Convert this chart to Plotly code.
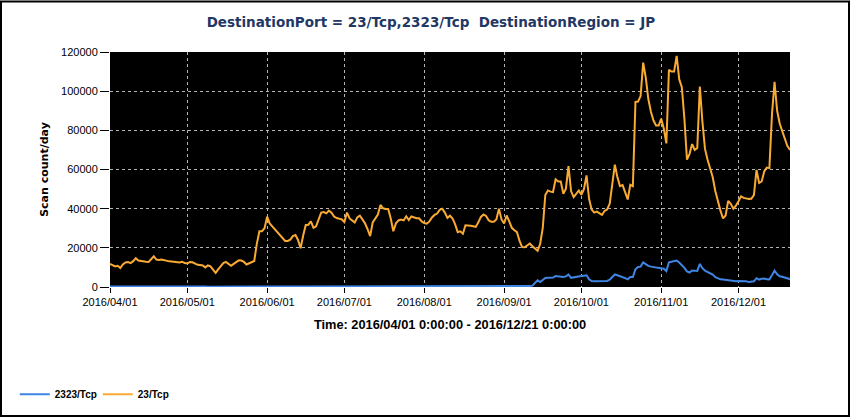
import plotly.graph_objects as go
import pandas as pd

start_date = "2016-04-01"

# 23/Tcp daily scan counts (2016/04/01 .. 2016/12/21)
tcp23_apr = [11800, 11000, 10500, 10800, 9700, 11500, 12500, 12700, 12200, 13200,
             14700, 13500, 13200, 13000, 12900, 12800, 14000, 15700, 14000, 13800,
             14000, 13600, 13200, 13100, 13000, 12800, 12700, 12500, 12900, 12200]
tcp23_may = [12000, 12800, 12600, 12000, 11300, 11200, 11000, 10000, 11000, 10500,
             8500, 7200, 9000, 10800, 12200, 12800, 12000, 10800, 11800, 12900,
             13600, 13500, 12800, 11500, 12000, 12500, 13300, 22000, 28500, 28500,
             30000]
tcp23_jun = [35900, 32500, 31000, 29500, 28000, 27000, 25000, 23500, 23500, 24200,
             26000, 26500, 24000, 19800, 26300, 31700, 31800, 33500, 30200, 31000,
             34500, 38000, 38300, 37600, 39000, 38000, 36000, 35200, 34900, 34500]
tcp23_jul = [33200, 38000, 35000, 34000, 33000, 35500, 36400, 34500, 32500, 29500,
             26000, 33000, 34800, 37000, 41900, 40200, 39800, 39800, 35000, 28500,
             32500, 34000, 34400, 34000, 36100, 34200, 36000, 35500, 35100, 35100,
             33500]
tcp23_aug = [32700, 32300, 33500, 35500, 36800, 37500, 39400, 40000, 38000, 35300,
             36400, 35000, 32000, 28000, 28400, 27200, 31500, 31500, 31300, 31000,
             30700, 33000, 35800, 37000, 36300, 34100, 33300, 33300, 34500, 40000,
             34500]
tcp23_sep = [32500, 36500, 33500, 30200, 29000, 28000, 23500, 20400, 20300, 21500,
             22200, 20800, 19500, 18500, 22000, 30000, 47000, 49300, 48700, 48500,
             55000, 53900, 53900, 47600, 50200, 61700, 49000, 45900, 47600, 49300]
tcp23_oct = [47100, 50000, 57000, 45000, 39500, 38000, 38500, 37800, 36800, 38800,
             39600, 42500, 52000, 62500, 56000, 51500, 52000, 48500, 44700, 52200,
             51500, 94500, 94700, 97500, 114600, 107000, 96000, 89500, 85000, 82500,
             82500]
tcp23_nov = [85900, 80900, 73300, 110900, 110000, 110000, 118000, 106000, 102000, 86000,
             65000, 68000, 73000, 70000, 71000, 102400, 84300, 70500, 65000, 60500,
             56000, 49000, 43500, 39000, 35000, 36500, 44000, 42500, 40000, 41500]
tcp23_dec = [43800, 46300, 45500, 45200, 45000, 45100, 47000, 59800, 53100, 53900,
             59000, 61000, 60700, 88000, 104800, 90000, 83500, 79500, 75500, 72000,
             70000]

# 2323/Tcp daily scan counts
tcp2323_apr = [200, 210, 190, 200, 220, 200, 190, 210, 200, 200,
               210, 200, 190, 200, 210, 220, 200, 190, 200, 210,
               200, 200, 190, 210, 200, 200, 210, 200, 190, 200]
tcp2323_may = [200, 210, 200, 190, 200, 210, 200, 200, 190, 200,
               210, 200, 200, 190, 210, 200, 200, 210, 190, 200,
               200, 210, 200, 190, 200, 210, 200, 200, 190, 200,
               210]
tcp2323_jun = [200, 200, 210, 190, 200, 200, 210, 200, 190, 200,
               210, 200, 200, 190, 200, 210, 200, 200, 190, 210,
               200, 200, 210, 190, 200, 200, 210, 200, 190, 200]
tcp2323_jul = [200, 210, 200, 190, 200, 210, 200, 200, 190, 200,
               210, 200, 200, 190, 210, 200, 200, 210, 190, 200,
               200, 210, 200, 190, 200, 210, 200, 200, 190, 200,
               210]
tcp2323_aug = [200, 200, 210, 190, 200, 200, 210, 200, 190, 200,
               210, 200, 200, 190, 200, 210, 200, 200, 190, 210,
               200, 200, 210, 190, 200, 200, 210, 200, 190, 200,
               210]
tcp2323_sep = [200, 200, 250, 250, 300, 300, 400, 400, 400, 500,
               500, 700, 2000, 3400, 2500, 3500, 4600, 4700, 4800, 4800,
               5600, 5400, 5300, 5100, 5400, 6300, 4700, 5000, 5100, 5300]
tcp2323_oct = [5600, 5800, 6000, 3900, 3000, 2900, 2900, 3000, 3000, 3000,
               3100, 3700, 5000, 6400, 6000, 5600, 5000, 4500, 3900, 5100,
               5100, 9000, 10200, 10400, 12600, 11500, 10800, 10400, 10200, 9800,
               9600]
tcp2323_nov = [9400, 9300, 8100, 12600, 12900, 13200, 13500, 12500, 11200, 9800,
               8000, 7400, 8400, 8400, 8200, 11800, 9600, 8300, 7500, 7000,
               6300, 5000, 4300, 3900, 3800, 3600, 3500, 3400, 3100, 2900]
tcp2323_dec = [3000, 3000, 2900, 2900, 2500, 2600, 2900, 4500, 3800, 4200,
               4300, 4000, 3900, 6000, 8400, 6500, 5500, 5200, 4800, 4300,
               4000]

series_names = ["2323/Tcp", "23/Tcp"]
series_colors = ["#3F86E4", "#F9AA33"]

tcp23 = (tcp23_apr + tcp23_may + tcp23_jun + tcp23_jul + tcp23_aug +
         tcp23_sep + tcp23_oct + tcp23_nov + tcp23_dec)
tcp2323 = (tcp2323_apr + tcp2323_may + tcp2323_jun + tcp2323_jul + tcp2323_aug +
           tcp2323_sep + tcp2323_oct + tcp2323_nov + tcp2323_dec)
dates = pd.date_range(start_date, periods=len(tcp23), freq="D")

fig = go.Figure()
for name, color, vals in zip(series_names, series_colors, [tcp2323, tcp23]):
    fig.add_trace(go.Scatter(x=dates, y=vals, mode="lines", name=name,
                             line=dict(color=color, width=2)))

tick_font = dict(family="Liberation Sans", size=11, color="#000000")
grid_color = "rgba(200,200,200,0.9)"

fig.update_layout(
    width=850, height=420,
    margin=dict(l=110, r=60, t=52, b=131),
    paper_bgcolor="white",
    plot_bgcolor="black",
    title=dict(text="DestinationPort = 23/Tcp,2323/Tcp  DestinationRegion = JP",
               x=0.507, xref="container", y=1 - 22 / 420, yanchor="middle", xanchor="center",
               font=dict(family="DejaVu Sans", size=13.5, color="#1F3864", weight="bold")),
    showlegend=True,
    legend=dict(orientation="h", x=-0.14, xanchor="left", y=-0.456, yanchor="middle",
                font=dict(family="Liberation Sans", size=10, color="#000000", weight="bold"),
                bgcolor="rgba(0,0,0,0)", itemwidth=30, tracegroupgap=0,
                entrywidth=38, entrywidthmode="pixels"),
    xaxis=dict(
        range=[pd.Timestamp("2016-04-01"), pd.Timestamp("2016-12-21")],
        tickformat="%Y/%m/%d", dtick="M1", tick0="2016-04-01",
        showgrid=True, gridcolor=grid_color, griddash="dot", gridwidth=1,
        ticks="outside", ticklen=5, tickcolor="black", tickwidth=1,
        showline=False, zeroline=False, automargin=False,
        tickfont=tick_font,
        title=dict(text="<b>Time: 2016/04/01 0:00:00 - 2016/12/21 0:00:00</b>",
                   font=dict(family="Liberation Sans", size=12.8, color="#000000"), standoff=12),
    ),
    yaxis=dict(
        range=[0, 120000], dtick=20000, tickformat="d",
        showgrid=True, gridcolor=grid_color, griddash="dot", gridwidth=1,
        ticks="outside", ticklen=9, tickcolor="black", tickwidth=1,
        showline=False, zeroline=False, automargin=False,
        tickfont=tick_font,
        title=dict(text="<b>Scan count/day</b>",
                   font=dict(family="DejaVu Sans", size=11, color="#000000"), standoff=10),
    ),
)

# outer border of the chart image
fig.add_shape(type="rect", xref="paper", yref="paper",
              x0=(1 - 110) / 680, x1=(849 - 110) / 680,
              y0=(289 - 419) / 237, y1=(289 - 1) / 237,
              line=dict(color="black", width=2), fillcolor="rgba(0,0,0,0)", layer="above")

fig.write_html("out.html", config={"displayModeBar": False},
               post_script="document.body.style.margin='0';document.body.style.overflow='hidden';")
